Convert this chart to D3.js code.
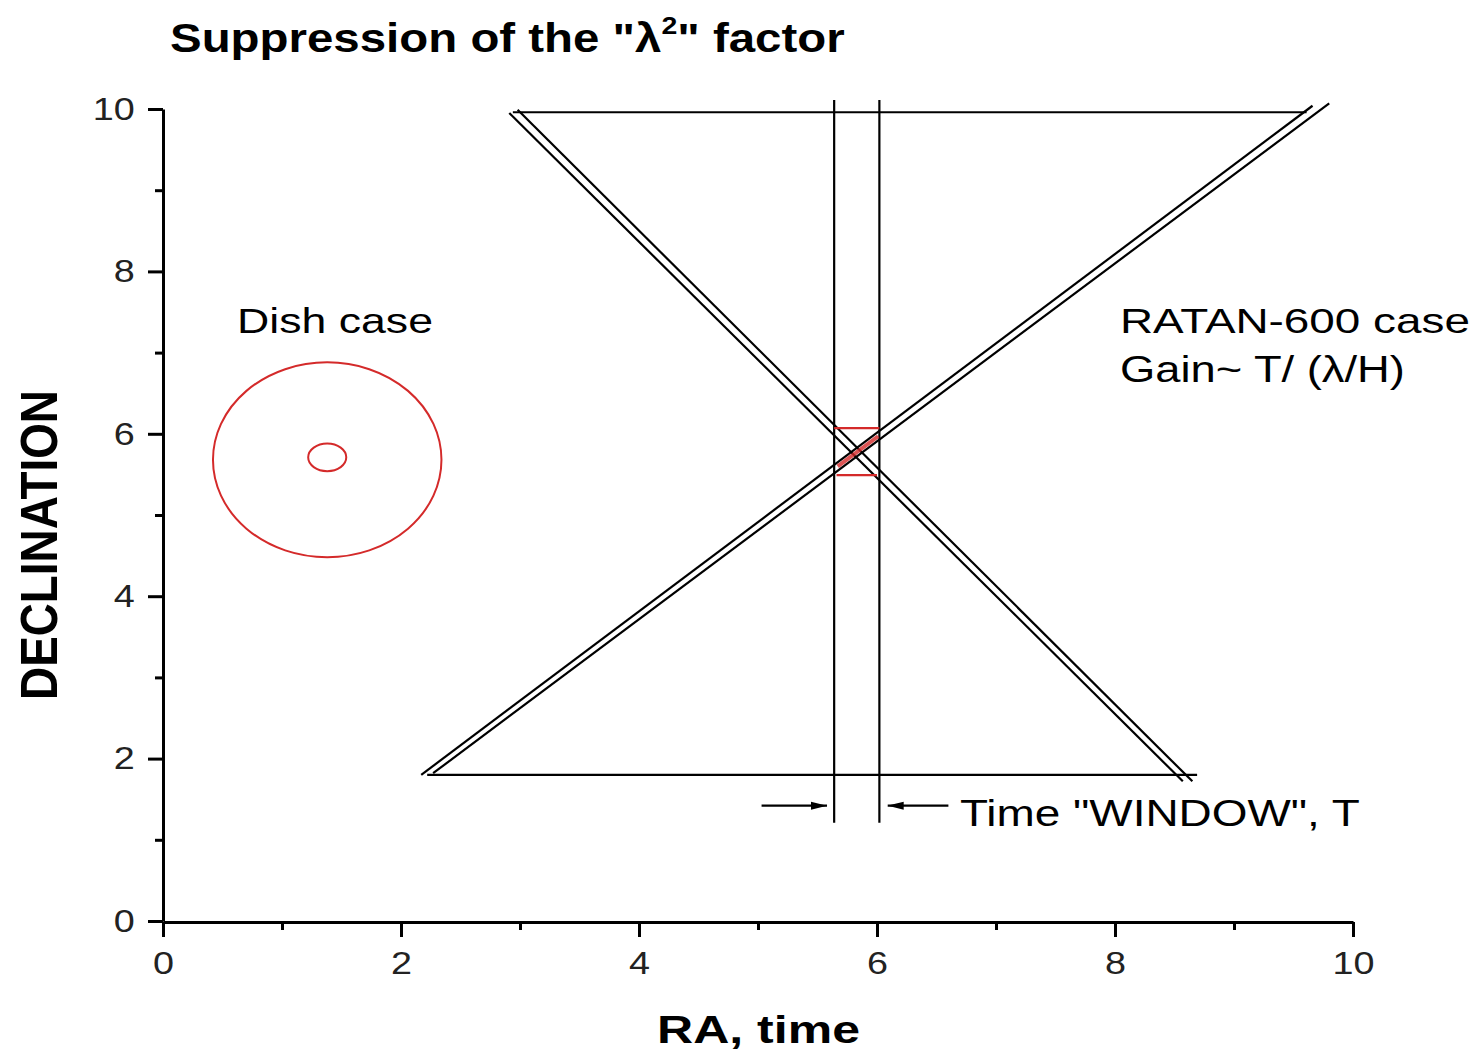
<!DOCTYPE html>
<html>
<head>
<meta charset="utf-8">
<script src="https://cdn.jsdelivr.net/npm/d3@7"></script>
<style>
  body { margin: 0; background: #fff; }
  text { font-family: "Liberation Sans", Arial, sans-serif; }
</style>
</head>
<body>
<script>
// axis ticks
const majorTicks = [0, 2, 4, 6, 8, 10];
const minorTicks = [1, 3, 5, 7, 9];

// RATAN-600 "hourglass" (RA, declination)
const descLines = [[[2.91, 9.95], [8.57, 1.72]], [[2.98, 9.99], [8.65, 1.72]]];
const ascLines = [[[2.17, 1.80], [9.66, 10.04]], [[2.27, 1.82], [9.80, 10.07]]];
const edgeLines = [[[2.94, 9.96], [9.61, 9.96]], [[2.22, 1.80], [8.69, 1.80]]];
const windowLines = [[[5.64, 10.11], [5.64, 1.21]], [[6.02, 10.11], [6.02, 1.21]]];
const arrowLines = [[[5.03, 1.42], [5.58, 1.42]], [[6.60, 1.42], [6.09, 1.42]]];

// red marks inside the time window
const redLines = [[[5.64, 6.07], [6.02, 6.07]], [[5.66, 5.49], [6.00, 5.49]]];
const redBand = [[5.67, 5.60], [6.01, 5.97]];

// dish case ellipses
const ellipses = [
  { cx: 1.38, cy: 5.68, rx: 0.96, ry: 1.20 },
  { cx: 1.38, cy: 5.71, rx: 0.16, ry: 0.17 }
];

const W = 1477, H = 1052;
const mLeft = 163, mRight = 1353, mTop = 109, mBottom = 921;

const svg = d3.select('body').append('svg')
  .attr('width', W)
  .attr('height', H);

const x = d3.scaleLinear().domain([0, 10]).range([mLeft, mRight]);
const y = d3.scaleLinear().domain([0, 10]).range([mBottom, mTop]);
const line = d3.line().x(d => x(d[0])).y(d => y(d[1]));

svg.append('defs').append('marker')
  .attr('id', 'arrow')
  .attr('viewBox', '0 0 16 10')
  .attr('refX', 16).attr('refY', 5)
  .attr('markerWidth', 16).attr('markerHeight', 10)
  .attr('markerUnits', 'userSpaceOnUse')
  .attr('orient', 'auto')
  .append('path')
  .attr('d', 'M0,1 L16,5 L0,9 Z')
  .attr('fill', '#000');

// axes
svg.append('g')
  .attr('transform', `translate(0,${mBottom + 1})`)
  .call(d3.axisBottom(x).tickValues(majorTicks).tickSize(15).tickPadding(14).tickSizeOuter(0));
svg.append('g')
  .attr('transform', `translate(0,${mBottom + 1})`)
  .call(d3.axisBottom(x).tickValues(minorTicks).tickSize(8).tickFormat('').tickSizeOuter(0))
  .select('.domain').remove();
svg.append('g')
  .attr('transform', `translate(${mLeft},0)`)
  .call(d3.axisLeft(y).tickValues(majorTicks).tickSize(15).tickPadding(9).tickSizeOuter(0));
svg.append('g')
  .attr('transform', `translate(${mLeft},0)`)
  .call(d3.axisLeft(y).tickValues(minorTicks).tickSize(8).tickFormat('').tickSizeOuter(0))
  .select('.domain').remove();

svg.selectAll('.domain, .tick line').attr('stroke', '#000').attr('stroke-width', 3);
svg.selectAll('.tick text')
  .attr('font-size', 32)
  .attr('fill', '#222')
  .attr('font-family', '"Liberation Sans", Arial, sans-serif')
  .attr('transform', 'scale(1.18,1)');

// black figure lines
const black = [...descLines, ...ascLines, ...edgeLines, ...windowLines];
svg.append('g').selectAll('path')
  .data(black)
  .join('path')
  .attr('d', line)
  .attr('fill', 'none')
  .attr('stroke', '#000')
  .attr('stroke-width', 2.2);

svg.append('g').selectAll('path')
  .data(arrowLines)
  .join('path')
  .attr('d', line)
  .attr('fill', 'none')
  .attr('stroke', '#000')
  .attr('stroke-width', 2.2)
  .attr('marker-end', 'url(#arrow)');

// red marks
const red = '#d42a2a';
svg.append('g').selectAll('path')
  .data(redLines)
  .join('path')
  .attr('d', line)
  .attr('stroke', red)
  .attr('stroke-width', 2.2);
svg.append('path')
  .attr('d', line(redBand))
  .attr('stroke', red)
  .attr('stroke-width', 4)
  .attr('opacity', 0.8);

svg.append('g').selectAll('ellipse')
  .data(ellipses)
  .join('ellipse')
  .attr('cx', d => x(d.cx))
  .attr('cy', d => y(d.cy))
  .attr('rx', d => x(d.rx) - x(0))
  .attr('ry', d => y(0) - y(d.ry))
  .attr('fill', 'none')
  .attr('stroke', red)
  .attr('stroke-width', 2);

// text, stretched to the widths seen in the original
function label(txt, px, py, size, weight, width, rotate) {
  const t = svg.append('text')
    .attr('font-size', size)
    .attr('font-weight', weight)
    .attr('fill', '#000');
  if (Array.isArray(txt)) {
    txt.forEach(p => {
      const s = t.append('tspan').text(p.t);
      if (p.sup) s.attr('font-size', size * 0.6).attr('dy', -size * 0.45);
      if (p.down) s.attr('dy', size * 0.45);
    });
  } else {
    t.text(txt);
  }
  const len = t.node().getComputedTextLength();
  const sx = width / len;
  if (rotate) {
    t.attr('text-anchor', 'middle')
      .attr('transform', `translate(${px},${py}) rotate(-90) scale(${sx},1)`);
  } else {
    t.attr('transform', `translate(${px},${py}) scale(${sx},1)`);
  }
  return t;
}

label([{ t: 'Suppression of the "λ' }, { t: '2', sup: true }, { t: '" factor', down: true }],
  170, 52, 40, 'bold', 675);
label('Dish case', 237, 333, 36, 'normal', 196);
label('RATAN-600 case', 1120, 333, 36, 'normal', 350);
label('Gain~ T/ (λ/H)', 1120, 382, 36, 'normal', 285);
label('Time "WINDOW", T', 960, 826, 37, 'normal', 400);
label('RA, time', 657, 1043, 39, 'bold', 203);
label('DECLINATION', 57, 545, 52, 'bold', 310, true);
</script>
</body>
</html>
